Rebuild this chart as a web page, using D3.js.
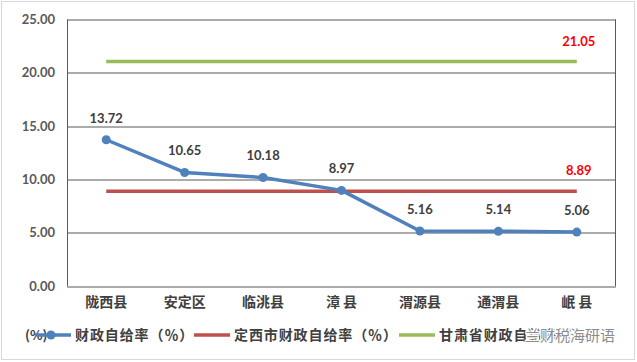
<!DOCTYPE html>
<html>
<head>
<meta charset="utf-8">
<script src="https://cdn.jsdelivr.net/npm/d3@7"></script>
<style>
  body { margin: 0; background: #fff; }
  svg { display: block; }
</style>
</head>
<body>
<div id="chart"></div>
<script>
const width = 637, height = 362;
const margin = {top: 19.5, right: 21, bottom: 76, left: 67};

// data
const counties = ["陇西县", "安定区", "临洮县", "漳 县", "渭源县", "通渭县", "岷 县"];
const selfRate = [13.72, 10.65, 10.18, 8.97, 5.16, 5.14, 5.06];
const cityRate = [8.89, 8.89, 8.89, 8.89, 8.89, 8.89, 8.89];
const provRate = [21.05, 21.05, 21.05, 21.05, 21.05, 21.05, 21.05];
const yTicks = [0, 5, 10, 15, 20, 25];
const legendNames = ["财政自给率（％）", "定西市财政自给率（％）", "甘肃省财政自给率（％）"];

const numFont = "Lato, 'Liberation Sans', sans-serif";
const cjkFont = "'Noto Sans CJK SC', sans-serif";

let svg = d3.select("#chart")
    .append("svg")
    .attr("width", width)
    .attr("height", height);

// outer frame
svg.append("rect")
    .attr("x", 1.5).attr("y", 1.5)
    .attr("width", width - 4).attr("height", height - 4)
    .attr("fill", "#fff")
    .attr("stroke", "#d9d9d9");

let w = width - margin.left - margin.right,
    h = height - margin.top - margin.bottom;

let g = svg.append("g")
    .attr("transform", `translate(${margin.left},${margin.top})`);

let x = d3.scaleBand()
    .domain(counties)
    .range([0, w]);

let y = d3.scaleLinear()
    .domain([0, 25])
    .range([h, 0]);

let cx = d => x(d) + x.bandwidth() / 2;

// gridlines
g.append("g")
    .selectAll("line")
    .data(yTicks)
    .enter()
    .append("line")
    .attr("x1", 0).attr("x2", w)
    .attr("y1", d => Math.round(y(d)) + 0.5)
    .attr("y2", d => Math.round(y(d)) + 0.5)
    .attr("stroke", "#595959")
    .attr("stroke-width", 1);

g.append("line")
    .attr("x1", 0.5).attr("x2", 0.5)
    .attr("y1", y(25)).attr("y2", y(0))
    .attr("stroke", "#595959");
g.append("line")
    .attr("x1", w - 0.5).attr("x2", w - 0.5)
    .attr("y1", y(25)).attr("y2", y(0))
    .attr("stroke", "#595959");

// y axis
let yAxis = g.append("g")
    .call(d3.axisLeft(y).tickValues(yTicks).tickSize(0).tickPadding(12).tickFormat(d3.format(".2f")));
yAxis.select(".domain").remove();
yAxis.selectAll("text")
    .style("font-family", numFont)
    .style("font-weight", "bold")
    .style("font-size", "13px")
    .attr("fill", "#595959");

// x axis
let xAxis = g.append("g")
    .attr("transform", `translate(0,${h})`)
    .call(d3.axisBottom(x).tickSize(0).tickPadding(11));
xAxis.select(".domain").remove();
xAxis.selectAll("text")
    .style("font-family", cjkFont)
    .style("font-weight", "bold")
    .style("font-size", "14px")
    .attr("fill", "#404040");

let line = d3.line()
    .x((d, i) => cx(counties[i]))
    .y(d => y(d));

// province line
g.append("path")
    .datum(provRate)
    .attr("d", line)
    .attr("fill", "none")
    .attr("stroke", "#9BBB59")
    .attr("stroke-width", 3.5);

// city line
g.append("path")
    .datum(cityRate)
    .attr("d", line)
    .attr("fill", "none")
    .attr("stroke", "#C0504D")
    .attr("stroke-width", 3.5);

// county series
g.append("path")
    .datum(selfRate)
    .attr("d", line)
    .attr("fill", "none")
    .attr("stroke", "#4F81BD")
    .attr("stroke-width", 3.5)
    .attr("stroke-linejoin", "round");

g.append("g")
    .selectAll("circle")
    .data(selfRate)
    .enter()
    .append("circle")
    .attr("cx", (d, i) => cx(counties[i]))
    .attr("cy", d => y(d))
    .attr("r", 4.5)
    .attr("fill", "#4F81BD");

g.append("g")
    .selectAll("text")
    .data(selfRate)
    .enter()
    .append("text")
    .attr("x", (d, i) => cx(counties[i]))
    .attr("y", d => y(d) - 17)
    .style("text-anchor", "middle")
    .style("font-family", numFont)
    .style("font-weight", "bold")
    .style("font-size", "13px")
    .attr("fill", "#404040")
    .text(d => d.toFixed(2));

// red labels at the last point of city/province lines
let last = counties.length - 1;
[provRate, cityRate].forEach(arr => {
    g.append("text")
        .attr("x", cx(counties[last]) + 2)
        .attr("y", y(arr[last]) - 16)
        .style("text-anchor", "middle")
        .style("font-family", numFont)
        .style("font-weight", "bold")
        .style("font-size", "13px")
        .attr("fill", "#FF0000")
        .text(arr[last].toFixed(2));
});

// legend
let ly = 335;
svg.append("text")
    .attr("x", 25).attr("y", ly + 5)
    .style("font-family", cjkFont)
    .style("font-weight", "bold")
    .style("font-size", "13px")
    .attr("fill", "#404040")
    .text("(%)");

let legendItems = [
    {color: "#4F81BD", x: 35, marker: true, name: legendNames[0]},
    {color: "#C0504D", x: 194, marker: false, name: legendNames[1]},
    {color: "#9BBB59", x: 399, marker: false, name: legendNames[2]}
];

let leg = svg.append("g")
    .selectAll("g")
    .data(legendItems)
    .enter()
    .append("g");

leg.append("line")
    .attr("x1", d => d.x).attr("x2", d => d.x + 36)
    .attr("y1", ly).attr("y2", ly)
    .attr("stroke", d => d.color)
    .attr("stroke-width", 3.5);

leg.filter(d => d.marker)
    .append("circle")
    .attr("cx", d => d.x + 16).attr("cy", ly)
    .attr("r", 4.5)
    .attr("fill", d => d.color);

leg.append("text")
    .attr("x", d => d.x + 40)
    .attr("y", ly + 5)
    .style("font-family", cjkFont)
    .style("font-weight", "bold")
    .style("font-size", "14px")
    .style("letter-spacing", "0.9px")
    .attr("fill", "#404040")
    .text(d => d.name);

// clip the overflowing legend at the frame
svg.append("rect")
    .attr("x", 617).attr("y", 320)
    .attr("width", 16).attr("height", 30)
    .attr("fill", "#fff");

// watermark
svg.append("text")
    .attr("x", 615).attr("y", ly + 6)
    .style("text-anchor", "end")
    .style("font-family", cjkFont)
    .style("font-size", "15px")
    .style("paint-order", "stroke")
    .attr("stroke", "#fff")
    .attr("stroke-width", 2.5)
    .attr("fill", "#8c8c8c")
    .text("兰财税海研语");
</script>
</body>
</html>
